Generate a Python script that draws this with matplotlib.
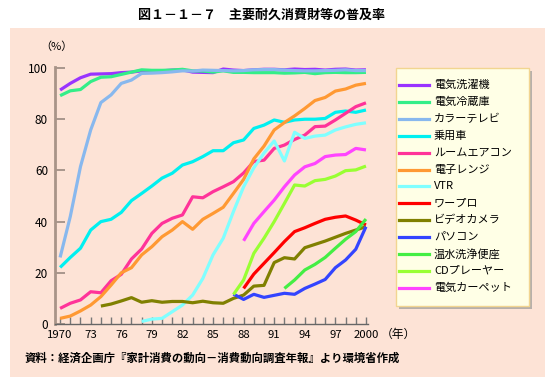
import numpy as np
import matplotlib.pyplot as plt
from matplotlib.patches import Rectangle

plt.rcParams['font.family'] = ['Noto Sans CJK JP', 'DejaVu Sans']

# data (%), each series with its first year
washer = [91.4, 94.0, 96.2, 97.6, 97.7, 97.8, 98.2, 98.4, 98.9, 98.8, 98.9, 99.2, 99.3, 98.4, 98.3, 98.2,
          99.6, 99.2, 99.0, 99.3, 99.5, 99.5, 99.3, 99.6, 99.4, 99.5, 99.2, 99.5, 99.6, 99.2, 99.3]
fridge = [89.2, 91.1, 91.6, 94.7, 96.4, 96.6, 97.5, 98.4, 99.3, 99.1, 99.1, 99.2, 99.5, 98.9, 98.8, 98.4,
          98.9, 98.3, 98.3, 98.2, 98.2, 98.2, 98.0, 98.1, 98.3, 97.8, 98.2, 98.3, 98.2, 98.2, 98.3]
color_tv = [26.0, 42.0, 61.5, 75.8, 86.5, 89.5, 94.0, 95.3, 97.9, 98.0, 98.2, 98.5, 98.9, 98.8, 99.2, 99.1,
            99.0, 98.9, 99.0, 99.3, 99.4, 99.4, 99.2, 99.0, 98.9, 98.9, 99.0, 99.1, 99.3, 99.0, 99.0]
car = [22.1, 26.0, 29.6, 36.7, 40.0, 40.9, 43.6, 48.2, 51.0, 53.9, 57.0, 58.9, 62.1, 63.4, 65.4, 67.7,
       67.7, 70.8, 71.9, 76.4, 77.7, 79.7, 78.8, 79.7, 80.0, 80.0, 80.3, 82.7, 83.2, 82.7, 83.6]
aircon = [6.1, 8.1, 9.4, 12.6, 12.2, 16.9, 19.4, 25.4, 29.3, 35.4, 39.3, 41.3, 42.6, 49.7, 49.3, 51.7,
          53.6, 55.6, 59.0, 63.5, 64.0, 68.6, 69.9, 72.1, 73.8, 77.1, 77.3, 79.7, 82.3, 84.9, 86.4]
microwave = [2.2, 3.1, 5.1, 7.4, 10.7, 15.2, 20.0, 22.0, 27.0, 30.2, 34.1, 36.7, 40.0, 37.0, 40.9, 43.2,
             45.6, 51.0, 56.5, 64.5, 69.5, 75.8, 78.7, 81.3, 84.2, 87.3, 88.5, 91.0, 91.8, 93.3, 94.0]
vtr = [1.0, 1.9, 2.2, 4.8, 7.4, 11.3, 17.8, 27.0, 33.5, 43.9, 53.6, 61.0, 66.8, 71.5, 63.7, 74.9,
       72.5, 73.4, 73.8, 75.8, 77.0, 78.0, 78.6]
wordpro = [13.9, 19.5, 23.7, 27.9, 32.2, 36.1, 37.6, 39.3, 40.9, 41.7, 42.2, 40.6, 38.7]
videocam = [7.0, 7.8, 9.0, 10.3, 8.5, 9.1, 8.5, 8.8, 8.8, 8.3, 8.9, 8.3, 8.1, 10.0, 11.3, 14.8, 15.1,
            24.0, 25.9, 25.4, 29.8, 31.1, 32.4, 33.9, 35.4, 36.7, 38.0]
pc = [11.7, 9.6, 11.6, 10.4, 11.2, 12.0, 11.6, 13.9, 15.6, 17.4, 22.0, 25.0, 29.2, 38.0]
toilet = [13.9, 17.2, 21.1, 23.3, 26.0, 29.6, 33.1, 36.1, 41.0]
cd = [11.5, 17.2, 27.6, 33.5, 40.0, 47.1, 54.3, 53.9, 56.0, 56.5, 57.8, 59.9, 60.2, 61.7]
carpet = [32.5, 39.3, 43.9, 48.4, 53.6, 58.2, 61.4, 62.7, 65.4, 66.0, 66.2, 68.6, 68.0]

labels = ['電気洗濯機', '電気冷蔵庫', 'カラーテレビ', '乗用車', 'ルームエアコン', '電子レンジ', 'VTR',
          'ワープロ', 'ビデオカメラ', 'パソコン', '温水洗浄便座', 'CDプレーヤー', '電気カーペット']
series = [washer, fridge, color_tv, car, aircon, microwave, vtr, wordpro, videocam, pc, toilet, cd, carpet]
start_years = [1970, 1970, 1970, 1970, 1970, 1970, 1978, 1988, 1974, 1987, 1992, 1987, 1988]
colors = ['#9933FF', '#33EE88', '#88B8EE', '#00F0F0', '#FF3399', '#FF9933', '#80FFFF',
          '#FF0000', '#808000', '#3344FF', '#44EE44', '#99FF33', '#FF44FF']

xticks = [1970, 1973, 1976, 1979, 1982, 1985, 1988, 1991, 1994, 1997, 2000]
xticklabels = ['1970', '73', '76', '79', '82', '85', '88', '91', '94', '97', '2000']

fig = plt.figure(figsize=(5.54, 3.88), dpi=100)
W, H = 554, 388

# pink panel
fig.patches.append(Rectangle((10 / W, 1 - 377 / H), 535 / W, 349 / H, transform=fig.transFigure,
                             facecolor='#FDE3D6', edgecolor='none', zorder=-1))

fig.text(262 / W, 1 - 15 / H, '図１－１－７　主要耐久消費財等の普及率', ha='center', va='center',
         fontsize=9.4, fontweight='bold')

ax = fig.add_axes([55 / W, 1 - 324 / H, 313 / W, 257 / H])
ax.set_facecolor('none')
ax.set_zorder(1)

for vals, y0, c in zip(series, start_years, colors):
    yrs = np.arange(y0, y0 + len(vals))
    ax.plot(yrs, vals, color=c, lw=2.3, solid_capstyle='butt', solid_joinstyle='round')

ax.set_xlim(1969.5, 2000.2)
ax.set_ylim(0, 100.4)
ax.set_yticks([0, 20, 40, 60, 80, 100])
ax.set_xticks(xticks)
ax.set_xticklabels(xticklabels)
ax.set_xticks(np.arange(1970, 2001), minor=True)
ax.tick_params(axis='y', direction='in', length=7, width=1.2, color='#9A8A80', labelsize=8.5, pad=5)
ax.tick_params(axis='x', which='both', direction='in', length=5, width=1, color='#777777',
               labelsize=8.2, pad=4)
for s in ['top', 'right']:
    ax.spines[s].set_visible(False)
ax.spines['left'].set_color('#A89488')
ax.spines['left'].set_linewidth(2)
ax.spines['bottom'].set_color('#666666')
ax.spines['bottom'].set_linewidth(1)

fig.text(56 / W, 1 - 47 / H, '（%）', ha='center', va='center', fontsize=8)
fig.text(381 / W, 1 - 334 / H, '（年）', ha='left', va='center', fontsize=8.5)
fig.text(25 / W, 1 - 358 / H, '資料：経済企画庁『家計消費の動向－消費動向調査年報』より環境省作成',
         ha='left', va='center', fontsize=8.2, fontweight='bold')

# legend box with shadow
fig.patches.append(Rectangle((399 / W, 1 - 309 / H), 133 / W, 238 / H, transform=fig.transFigure,
                             facecolor='#B8B0AA', edgecolor='none', zorder=2))
fig.patches.append(Rectangle((396 / W, 1 - 306 / H), 133 / W, 238 / H, transform=fig.transFigure,
                             facecolor='#FFFFE6', edgecolor='#F2D590', lw=1, zorder=3))
for i, (lab, c) in enumerate(zip(labels, colors)):
    y = 1 - (85 + i * 16.9) / H
    fig.lines.append(plt.Line2D([399 / W, 429 / W], [y, y], transform=fig.transFigure,
                                color=c, lw=2.3, zorder=4))
    fig.text(434 / W, y, lab, ha='left', va='center', fontsize=8, zorder=5)

fig.savefig('out.png', dpi=100)
